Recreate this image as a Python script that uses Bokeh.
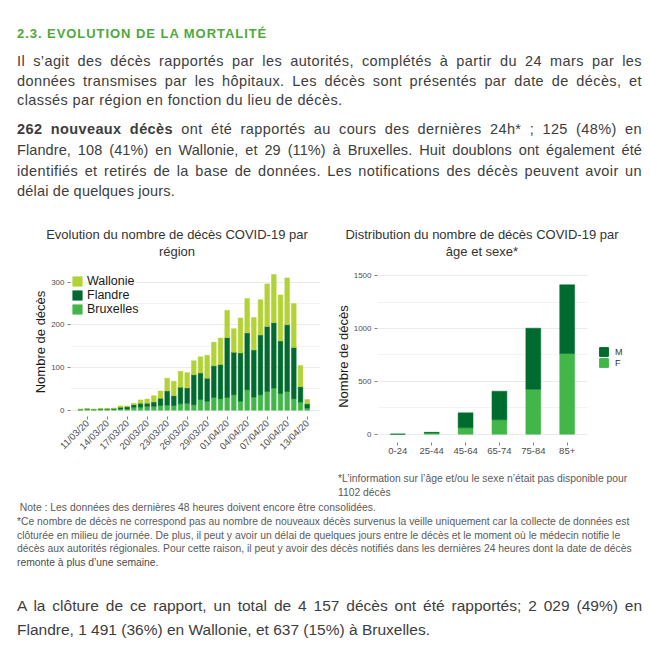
import pandas as pd
from math import pi
from bokeh.plotting import figure
from bokeh.models import (Div, Range1d, FactorRange, FixedTicker, SingleIntervalTicker,
                          DatetimeTickFormatter, Legend, LegendItem, ColumnDataSource)
from bokeh.layouts import column, row
from bokeh.embed import file_html
from bokeh.resources import INLINE

# ---------------- data ----------------
dates = ["10/03/20", "11/03/20", "12/03/20", "13/03/20", "14/03/20", "15/03/20", "16/03/20",
         "17/03/20", "18/03/20", "19/03/20", "20/03/20", "21/03/20", "22/03/20", "23/03/20",
         "24/03/20", "25/03/20", "26/03/20", "27/03/20", "28/03/20", "29/03/20", "30/03/20",
         "31/03/20", "01/04/20", "02/04/20", "03/04/20", "04/04/20", "05/04/20", "06/04/20",
         "07/04/20", "08/04/20", "09/04/20", "10/04/20", "11/04/20", "12/04/20", "13/04/20"]
bruxelles = [1, 2, 1, 2, 2, 2, 3, 3, 7, 7, 9, 9, 11, 12, 11, 15, 16, 13, 25, 21, 30, 27,
             30, 36, 21, 48, 31, 36, 44, 52, 39, 44, 27, 19, 5]
flandre = [1, 1, 1, 1, 1, 2, 4, 5, 6, 9, 7, 10, 17, 33, 23, 39, 36, 70, 62, 54, 74, 80,
           140, 100, 113, 133, 110, 140, 152, 153, 123, 156, 120, 36, 10]
wallonie = [0, 0, 0, 1, 1, 1, 3, 2, 3, 8, 10, 15, 17, 30, 34, 37, 36, 33, 38, 54, 55, 62,
            64, 55, 82, 81, 76, 83, 100, 113, 108, 110, 103, 50, 10]
date_ticks = ["11/03/20", "14/03/20", "17/03/20", "20/03/20", "23/03/20", "26/03/20",
              "29/03/20", "01/04/20", "04/04/20", "07/04/20", "10/04/20", "13/04/20"]

ages = ["0-24", "25-44", "45-64", "65-74", "75-84", "85+"]
femmes = [0, 12, 60, 136, 426, 764]
hommes = [0, 6, 142, 271, 578, 651]

C_WAL = "#b3d335"
C_FLA = "#006b2e"
C_BRU = "#43b649"
FONT = "Liberation Sans"
TICK_COL = "#4d4d4d"

# ---------------- left chart ----------------
xd = pd.to_datetime(dates, format="%d/%m/%y")
src1 = ColumnDataSource(dict(x=xd, Bruxelles=bruxelles, Flandre=flandre, Wallonie=wallonie))
DAY_MS = 86400000
tick_ms = [pd.to_datetime(t, format="%d/%m/%y").value / 1e6 for t in date_ticks]

p1 = figure(width=322, height=208, x_axis_type="datetime", output_backend="svg",
            toolbar_location=None,
            x_range=Range1d(xd[0] - pd.Timedelta(hours=36), xd[-1] + pd.Timedelta(hours=48)),
            y_range=Range1d(-14.8, 334.4),
            min_border_left=62, min_border_right=10, min_border_top=5, min_border_bottom=54)
r1 = p1.vbar_stack(["Bruxelles", "Flandre", "Wallonie"], x="x", width=0.7 * DAY_MS,
                   fill_color=[C_BRU, C_FLA, C_WAL], line_color=[C_BRU, C_FLA, C_WAL],
                   line_width=0.5, source=src1)
p1.xaxis.ticker = FixedTicker(ticks=tick_ms)
p1.xaxis.formatter = DatetimeTickFormatter(days="%d/%m/%y", months="%d/%m/%y",
                                           years="%d/%m/%y", hours="%d/%m/%y")
p1.xaxis.major_label_orientation = pi / 4
p1.yaxis.ticker = SingleIntervalTicker(interval=100, num_minor_ticks=2)
p1.yaxis.axis_label = "Nombre de décès"

leg1 = Legend(items=[LegendItem(label="Wallonie", renderers=[r1[2]]),
                     LegendItem(label="Flandre", renderers=[r1[1]]),
                     LegendItem(label="Bruxelles", renderers=[r1[0]])],
              location=(1, 100))
leg1.glyph_width = 12
leg1.glyph_height = 12
leg1.label_height = 12
leg1.spacing = 0
leg1.padding = 0
leg1.margin = 0
leg1.label_standoff = 4
leg1.label_text_font = FONT
leg1.label_text_font_size = "12.5px"
leg1.label_text_line_height = 1.0
leg1.label_text_color = "#1a1a1a"
leg1.border_line_color = None
leg1.background_fill_alpha = 0
p1.add_layout(leg1)

# ---------------- right chart ----------------
src2 = ColumnDataSource(dict(age=ages, F=femmes, M=hommes))
p2 = figure(width=262, height=208, output_backend="svg", toolbar_location=None,
            x_range=FactorRange(factors=ages, range_padding=0.2 / 6),
            y_range=Range1d(-78.6, 1550),
            min_border_left=47, min_border_right=5, min_border_top=8, min_border_bottom=28)
r2 = p2.vbar_stack(["F", "M"], x="age", width=0.44,
                   fill_color=[C_BRU, C_FLA], line_color=[C_BRU, C_FLA], line_width=0.5,
                   source=src2)
p2.yaxis.ticker = SingleIntervalTicker(interval=500, num_minor_ticks=2)
p2.yaxis.axis_label = "Nombre de décès"

# legend panel for the right chart (sex legend); its renderers are hidden, swatches only
pl = figure(width=50, height=208, output_backend="svg", toolbar_location=None,
            x_axis_location=None, y_axis_location=None, x_range=FactorRange(factors=ages),
            y_range=Range1d(0, 1), min_border=0)
pl.grid.visible = False
pl.outline_line_color = None
pl.background_fill_color = "white"
lm = pl.vbar(x="age", top="M", width=0.44, fill_color=C_FLA, line_color=C_FLA,
             source=src2, visible=False)
lf = pl.vbar(x="age", top="F", width=0.44, fill_color=C_BRU, line_color=C_BRU,
             source=src2, visible=False)
leg2 = Legend(items=[LegendItem(label="M", renderers=[lm]),
                     LegendItem(label="F", renderers=[lf])],
              location=(6, 74))
leg2.glyph_width = 11
leg2.glyph_height = 11
leg2.label_height = 11
leg2.spacing = 0
leg2.padding = 0
leg2.margin = 0
leg2.label_standoff = 6
leg2.label_text_font = FONT
leg2.label_text_font_size = "9px"
leg2.label_text_line_height = 1.0
leg2.label_text_color = "#333333"
leg2.border_line_color = None
leg2.background_fill_alpha = 0
leg2.inactive_fill_alpha = 0
pl.add_layout(leg2)

for p, xfs in ((p1, "9.5px"), (p2, "9.5px")):
    p.outline_line_color = None
    p.xgrid.visible = False
    p.ygrid.grid_line_color = "#ebebeb"
    p.ygrid.minor_grid_line_color = "#f3f3f3"
    p.background_fill_color = "white"
    p.border_fill_color = "white"
    for ax in (p.xaxis[0], p.yaxis[0]):
        ax.axis_line_color = None
        ax.major_tick_line_color = TICK_COL
        ax.major_tick_line_width = 0.7
        ax.major_tick_out = 3
        ax.major_tick_in = 0
        ax.minor_tick_line_color = None
        ax.major_label_text_font = FONT
        ax.major_label_text_color = TICK_COL
        ax.major_label_standoff = 2
    p.yaxis.major_label_text_font_size = "8px"
    p.xaxis.major_label_text_font_size = xfs
    p.yaxis.axis_label_text_font = FONT
    p.yaxis.axis_label_text_font_size = "13px"
    p.yaxis.axis_label_text_font_style = "normal"
    p.yaxis.axis_label_text_color = "#1a1a1a"
    p.yaxis.axis_label_standoff = 0

# ---------------- text blocks ----------------
BASE = "font-family:'Liberation Sans',Arial,sans-serif;"


def ln(text, top, left, width, size, color, lh, justify=False, extra=""):
    ja = "text-align:justify;text-align-last:justify;" if justify else "white-space:nowrap;"
    return (f'<div style="position:absolute;top:{top}px;left:{left}px;width:{width}px;'
            f'font-size:{size}px;line-height:{lh}px;color:{color};{ja}{extra}">{text}</div>')


def block(w, h, inner):
    return f'<div style="position:relative;width:{w}px;height:{h}px;{BASE}">{inner}</div>'


BODY = "#3d3d3d"
LS = "letter-spacing:0.4px;"
top_lines = [
    ln("2.3. EVOLUTION DE LA MORTALITÉ", 18, 9, 300, 13, "#4fa83d", 16,
       extra="font-weight:bold;letter-spacing:0.95px;"),
    ln("Il s’agit des décès rapportés par les autorités, complétés à partir du 24 mars par les",
       43, 9, 625, 14.5, BODY, 20, True, LS),
    ln("données transmises par les hôpitaux. Les décès sont présentés par date de décès, et",
       62.5, 9, 625, 14.5, BODY, 20, True, LS),
    ln("classés par région en fonction du lieu de décès.", 82, 9, 625, 14.5, BODY, 20, False, LS),
    ln("<b>262 nouveaux décès</b> ont été rapportés au cours des dernières 24h* ; 125 (48%) en",
       111, 9, 625, 14.5, BODY, 20, True, LS),
    ln("Flandre, 108 (41%) en Wallonie, et 29 (11%) à Bruxelles. Huit doublons ont également été",
       132, 9, 625, 14.5, BODY, 20, True, "letter-spacing:0.1px;"),
    ln("identifiés et retirés de la base de données. Les notifications des décès peuvent avoir un",
       153, 9, 625, 14.5, BODY, 20, True, LS),
    ln("délai de quelques jours.", 173, 9, 625, 14.5, BODY, 20, False, "letter-spacing:0.2px;"),
]
div_top = Div(text=block(634, 204, "".join(top_lines)), width=634, height=204, margin=0)

TCOL = "#333333"
div_t1 = Div(text=block(322, 50, ln("Evolution du nombre de décès COVID-19 par", 14, 19, 300, 13,
                                     TCOL, 17, extra="text-align:center;")
                        + ln("région", 31, 19, 300, 13, TCOL, 17, extra="text-align:center;")),
             width=322, height=50, margin=0)
div_t2 = Div(text=block(312, 50, ln("Distribution du nombre de décès COVID-19 par", 14, 2, 300, 13,
                                     TCOL, 17, extra="text-align:center;")
                        + ln("âge et sexe*", 31, 2, 300, 13, TCOL, 17, extra="text-align:center;")),
             width=312, height=50, margin=0)

NOTE = "#5a5a5a"
NFS = 10.35
bottom_lines = [
    ln("*L’information sur l’âge et/ou le sexe n’était pas disponible pour", 2, 330, 300, NFS, NOTE, 14),
    ln("1102 décès", 16, 330, 300, NFS, NOTE, 14),
    ln("&nbsp;Note : Les données des dernières 48 heures doivent encore être consolidées.",
       31, 9, 625, NFS, NOTE, 14),
    ln("*Ce nombre de décès ne correspond pas au nombre de nouveaux décès survenus la veille "
       "uniquement car la collecte de données est", 45, 9, 625, NFS, NOTE, 14),
    ln("clôturée en milieu de journée. De plus, il peut y avoir un délai de quelques jours entre "
       "le décès et le moment où le médecin notifie le", 59, 9, 625, NFS, NOTE, 14),
    ln("décès aux autorités régionales. Pour cette raison, il peut y avoir des décès notifiés dans "
       "les dernières 24 heures dont la date de décès", 72, 9, 625, NFS, NOTE, 14),
    ln("remonte à plus d’une semaine.", 86, 9, 625, NFS, "#4a4a4a", 14),
    ln("A la clôture de ce rapport, un total de 4 157 décès ont été rapportés; 2 029 (49%) en",
       124, 9, 625, 15.5, BODY, 23, True),
    ln("Flandre, 1 491 (36%) en Wallonie, et 637 (15%) à Bruxelles.", 147.5, 9, 625, 15.5, BODY, 23),
]
div_bottom = Div(text=block(634, 187, "".join(bottom_lines)), width=634, height=187, margin=0)

layout = column(div_top,
                row(column(div_t1, p1, spacing=0),
                    column(div_t2, row(p2, pl, spacing=0), spacing=0), spacing=0),
                div_bottom, spacing=0, margin=(8, 8, 0, 8))

open("out.html", "w").write(file_html(layout, INLINE))
